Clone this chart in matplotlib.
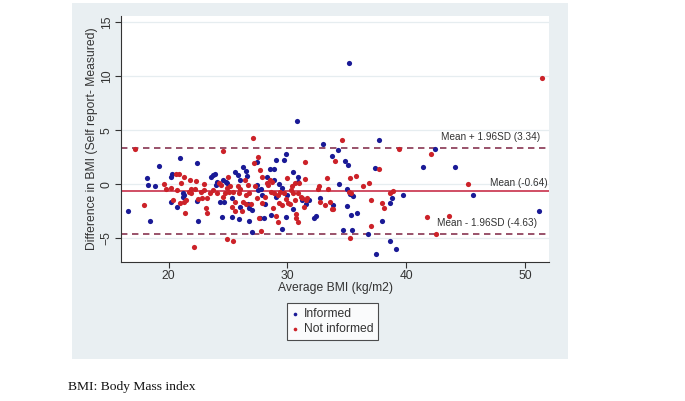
import matplotlib
matplotlib.use("Agg")
import matplotlib.pyplot as plt
from matplotlib.patches import Rectangle

# ---- data ----
informed_x = [16.6, 18.15, 18.3, 18.4, 18.9, 19.2, 20.2, 20.2, 20.25, 20.7, 21.0, 21.2, 21.2, 21.3,
              22.4, 22.5, 22.4, 23.6, 23.7, 23.9, 24.0, 24.1, 24.3, 24.5, 24.6, 24.7, 24.8, 24.9,
              25.3, 25.3, 25.6, 25.8, 25.9, 26.0, 26.05, 26.3, 26.5, 26.6, 26.7, 26.75, 26.8, 27.0,
              27.0, 27.4, 27.4, 27.5, 27.7, 27.8, 27.9, 28.0, 28.1, 28.3, 28.5, 28.6, 28.85, 28.9,
              29.0, 29.05, 29.3, 29.5, 29.5, 29.75, 29.85, 29.9, 29.95, 30.45, 30.5, 30.8, 30.9,
              30.9, 31.2, 31.6, 31.8, 32.2, 32.4, 32.7, 33.0, 33.75, 33.8, 34.25, 34.3, 34.7, 34.8,
              35.0, 35.0, 35.1, 35.2, 35.3, 35.35, 35.4, 35.5, 35.85, 36.8, 37.4, 37.45, 37.7,
              37.95, 38.6, 38.6, 38.8, 39.15, 39.7, 41.4, 42.4, 44.1, 45.6, 51.2]
informed_y = [-2.45, 0.56, -0.06, -3.4, -0.2, 1.7, -1.6, 0.7, 0.96, -2.1, 2.4, -0.8, -1.15, -0.96,
              1.95, -3.4, -1.5, 0.7, 0.9, 1.0, -0.1, 0.25, -1.6, -3.0, 0.4, -1.6, 0.25, 0.15,
              -1.3, -3.0, 1.1, 0.9, -3.2, 0.4, -2.1, 1.65, 1.2, 0.8, -1.8, -3.4, -2.2, -2.4,
              -4.45, 2.05, -0.06, -0.5, -3.15, -0.4, -1.0, -3.15, -1.8, 0.7, 1.4, -2.85, 1.4, 0.4,
              2.25, -1.15, 0.03, -4.1, -0.3, 2.3, 2.8, -3.0, -1.0, 1.1, -2.25, 5.9, 0.7,
              0.25, -1.45, -1.85, -1.45, -3.15, -2.9, -1.25, 3.7, 2.65, -1.9, 3.2, 0.06, -4.2, 2.15,
              -0.45, -2.0, 1.8, 11.2, -0.9, -2.8, -4.25, -1.1, -2.7, -4.65, 1.55, -6.45, 4.1,
              -3.4, -1.75, -5.25, -1.25, -5.95, -1.0, 1.6, 3.25, 1.65, -1.0, -2.5]

notinf_x = [17.15, 17.9, 19.6, 19.8, 20.2, 20.4, 20.6, 20.7, 20.9, 21.0, 21.05, 21.3, 21.3, 21.4,
            21.5, 21.7, 21.8, 21.85, 21.9, 22.1, 22.2, 22.3, 22.45, 22.7, 22.85, 23.0, 23.0, 23.15,
            23.2, 23.25, 23.5, 23.75, 24.1, 24.25, 24.4, 24.6, 24.6, 24.75, 24.9, 24.9, 25.0, 25.1,
            25.15, 25.3, 25.4, 25.4, 25.6, 25.6, 25.8, 25.9, 26.05, 26.2, 26.3, 26.4, 26.5, 26.55,
            26.7, 26.8, 26.9, 27.1, 27.2, 27.3, 27.4, 27.5, 27.6, 27.7, 27.8, 27.85, 27.9, 28.1,
            28.3, 28.4, 28.5, 28.6, 28.7, 28.8, 28.9, 29.05, 29.2, 29.2, 29.3, 29.4, 29.5, 29.7,
            29.85, 29.95, 30.05, 30.2, 30.3, 30.4, 30.5, 30.6, 30.65, 30.7, 30.75, 30.85, 30.9,
            30.95, 31.1, 31.2, 31.4, 31.45, 31.5, 31.6, 31.65, 32.6, 32.65, 32.75, 33.2, 33.3,
            33.4, 33.55, 33.75, 33.8, 34.0, 34.6, 35.2, 35.3, 35.3, 35.35, 35.8, 36.35, 36.9,
            37.0, 37.0, 37.7, 37.95, 38.1, 38.65, 38.85, 39.4, 41.7, 42.1, 42.5, 43.55, 45.15, 51.4]
notinf_y = [3.25, -1.9, 0.03, -0.45, -0.3, -1.45, 1.0, -0.5, 0.95, -1.75, 0.15, -1.6, 0.7, -2.7,
            -1.45, -0.7, 0.4, -0.4, -0.85, -5.85, -0.45, 0.35, -1.4, -0.7, -1.3, -0.5, 0.03, -2.2,
            -2.7, -1.3, -0.8, -0.5, -0.85, 0.15, -0.06, 3.1, -1.15, -0.85, -0.3, -5.1, 0.7, -0.7,
            -0.2, -2.1, -5.25, -0.7, -1.6, -2.45, -0.2, -0.85, -0.45, -2.45, -1.6, 0.4, -1.0, -1.8,
            -0.06, -0.85, -1.8, 4.25, 1.95, -0.2, -1.3, 2.5, -3.15, 1.35, -4.3, 0.7, -1.75, -1.15,
            0.15, -0.06, 0.4, -0.7, 0.25, -2.15, -0.85, -2.95, -0.95, -3.45, -1.75, -0.7, -1.9, -0.8,
            -1.4, 0.56, -1.75, -1.8, -0.5, -0.2, -0.85, -1.45, 0.1, -2.75, -3.15, -3.45, -0.85,
            0.1, -1.15, -1.3, -2.1, 0.45, 2.1, -1.45, -1.3, -0.45, -0.2, -1.6, -1.9, 0.56,
            -0.45, -1.6, -2.25, -2.3, 2.2, 4.1, -0.7, -5.0, 0.56, -0.8, 0.8, -0.15, 0.15,
            -1.45, -3.85, 1.4, -1.75, -2.15, -0.8, -0.6, 3.25, -3.0, 2.8, -4.6, -2.95, 0.03, 9.9]

mean_diff = -0.64
upper_loa = 3.34
lower_loa = -4.63
x_ticks = [20, 30, 40, 50]
y_ticks = [-5, 0, 5, 10, 15]

# ---- styling ----
FONT = "Liberation Sans"
FS = 8.7
W, H = 685, 401
fig = plt.figure(figsize=(W / 100, H / 100), dpi=100)
fig.patch.set_facecolor("white")

# graph region background (Stata style)
bg = Rectangle((72 / W, 1 - 359 / H), (568 - 72) / W, (359 - 3) / H,
               transform=fig.transFigure, facecolor="#e9eff2",
               edgecolor="none", zorder=-10)
fig.patches.append(bg)

ax = fig.add_axes([121 / W, 1 - 262 / H, (549 - 121) / W, (262 - 16) / H])
ax.set_zorder(1)
ax.set_facecolor("white")
ax.set_xlim(16.0, 52.0)
ax.set_ylim(-7.2, 15.6)

for yv in y_ticks:
    ax.axhline(yv, color="#e6edf0", lw=0.9, zorder=1)

blue = "#1a1a96"
red = "#cc2229"
ax.scatter(informed_x, informed_y, s=14, color=blue, linewidths=0, zorder=3, label="Informed")
ax.scatter(notinf_x, notinf_y, s=14, color=red, linewidths=0, zorder=3, label="Not informed")

ax.axhline(mean_diff, color="#c41e3a", lw=1.1, zorder=2)
ax.axhline(upper_loa, color="#7d2342", lw=1.1, ls=(0, (4.2, 3)), zorder=2)
ax.axhline(lower_loa, color="#7d2342", lw=1.1, ls=(0, (4.2, 3)), zorder=2)

txtc = "#333333"
ax.text(51.26, upper_loa + 1.05, "Mean + 1.96SD (3.34)", ha="right", va="center",
        fontsize=7.2, family=FONT, color=txtc)
ax.text(51.85, mean_diff + 0.75, "Mean (-0.64)", ha="right", va="center",
        fontsize=7.2, family=FONT, color=txtc)
ax.text(51.0, lower_loa + 1.05, "Mean - 1.96SD (-4.63)", ha="right", va="center",
        fontsize=7.2, family=FONT, color=txtc)

for s in ["top", "right"]:
    ax.spines[s].set_visible(False)
for s in ["left", "bottom"]:
    ax.spines[s].set_color("#333333")
    ax.spines[s].set_linewidth(0.8)

ax.set_xticks(x_ticks)
ax.set_yticks(y_ticks)
ax.tick_params(axis="both", direction="out", length=4, width=0.8, color="#333333",
               labelsize=FS, labelcolor=txtc, pad=2)
for lab in ax.get_xticklabels() + ax.get_yticklabels():
    lab.set_family(FONT)
for lab in ax.get_yticklabels():
    lab.set_rotation(90)
    lab.set_va("center")

ax.set_xlabel("Average BMI (kg/m2)", fontsize=FS, family=FONT, color=txtc, labelpad=0)
ax.set_ylabel("Difference in BMI (Self report- Measured)", fontsize=FS, family=FONT,
              color=txtc, labelpad=2)

leg = ax.legend(loc="upper left", bbox_to_anchor=(287 / W, 1 - 303 / H),
                bbox_transform=fig.transFigure, borderaxespad=0, frameon=True,
                fancybox=False, handlelength=0.5, handletextpad=0.5, borderpad=0.4,
                labelspacing=0.3, markerscale=0.7,
                prop={"family": FONT, "size": FS})
leg.get_frame().set_edgecolor("#222222")
leg.get_frame().set_linewidth(0.8)
for t in leg.get_texts():
    t.set_color(txtc)

fig.text(68 / W, 1 - 387 / H, "BMI: Body Mass index", ha="left", va="center",
         fontsize=9.7, family="Liberation Serif", color="#111111")

fig.savefig("out.png", dpi=100)
